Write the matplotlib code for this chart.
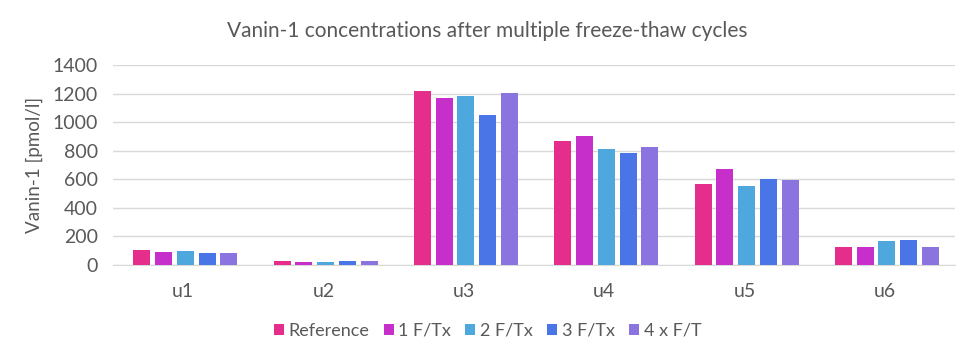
import matplotlib
matplotlib.use("Agg")
import matplotlib.pyplot as plt
import numpy as np

plt.rcParams['font.family'] = ['Lato', 'DejaVu Sans']

samples = ["u1", "u2", "u3", "u4", "u5", "u6"]
series = ["Reference", "1 F/Tx", "2 F/Tx", "3 F/Tx", "4 x F/T"]
reference = [105, 30, 1221, 865, 567, 126]
ft1 = [91, 22, 1172, 900, 672, 126]
ft2 = [98, 20, 1186, 809, 553, 168]
ft3 = [84, 29, 1053, 781, 602, 175]
ft4 = [84, 29, 1207, 823, 595, 126]
colors = ["#E52D8C", "#C62FC9", "#4FA8DD", "#4A75E6", "#8B74E0"]

werte = [reference, ft1, ft2, ft3, ft4]
grau = "#595959"

fig = plt.figure(figsize=(9.75, 3.62), dpi=100)
ax = fig.add_axes([113/975, 1 - 265/362, (955 - 113)/975, (265 - 65)/362])

x = np.arange(len(samples))
passo = 0.155
largura = 0.121
for i, (nome, vals) in enumerate(zip(series, werte)):
    ax.bar(x + (i - 2) * passo + 0.015, vals, largura, color=colors[i], label=nome, zorder=3)

ax.set_xlim(-0.5, len(samples) - 0.5)
ax.set_ylim(0, 1400)
ax.set_yticks(range(0, 1401, 200))
ax.set_xticks(x)
ax.set_xticklabels(samples)
ax.grid(axis='y', color='#D9D9D9', linewidth=1, zorder=0)
for lado in ['top', 'right', 'left']:
    ax.spines[lado].set_visible(False)
ax.spines['bottom'].set_color('#D9D9D9')
ax.tick_params(axis='both', length=0, labelsize=14, colors=grau)
ax.tick_params(axis='x', pad=13)
ax.tick_params(axis='y', pad=11)
ax.set_ylabel("Vanin-1 [pmol/l]", fontsize=13.5, color=grau, labelpad=7)

fig.text(0.5, 1 - 31/362, "Vanin-1 concentrations after multiple freeze-thaw cycles",
         ha='center', va='center', fontsize=15, color=grau)

fig.legend(loc='center', bbox_to_anchor=(0.5, 1 - 331/362), ncol=5, frameon=False,
           fontsize=13, handlelength=0.55, handleheight=0.55, handletextpad=0.25,
           columnspacing=0.8, labelcolor=grau)

fig.savefig("out.png", dpi=100)
